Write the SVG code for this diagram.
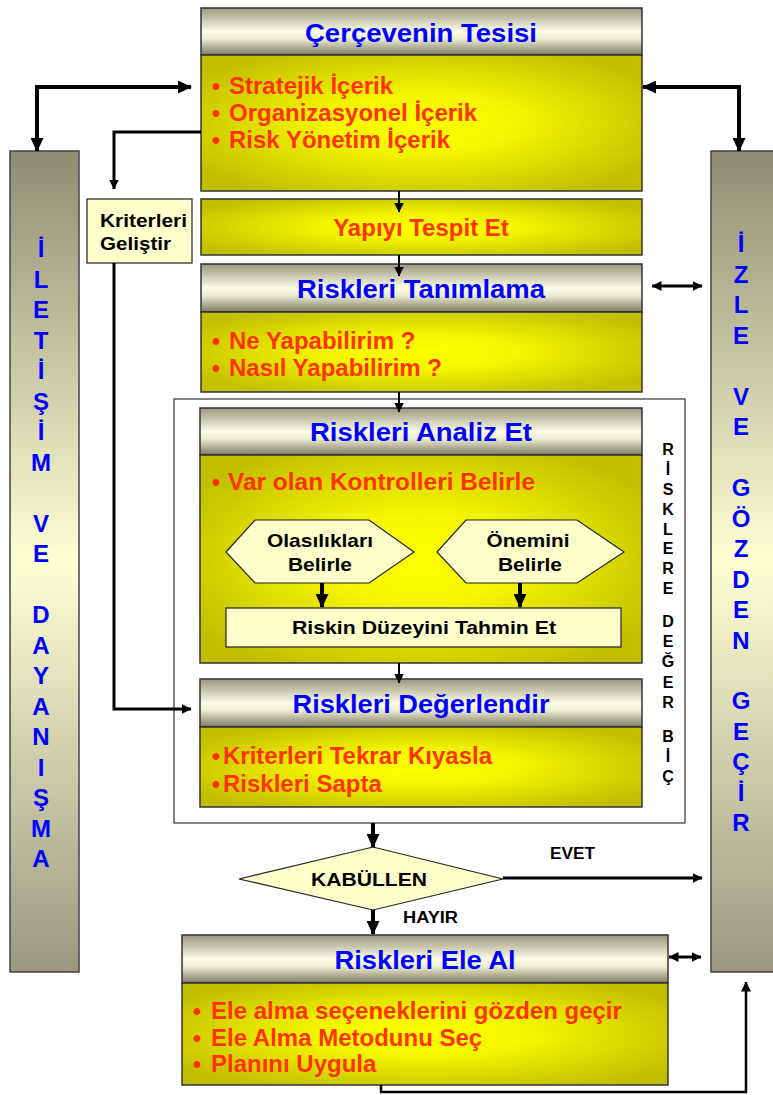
<svg xmlns="http://www.w3.org/2000/svg" width="773" height="1095" viewBox="0 0 773 1095">
<defs>
<linearGradient id="gh" x1="0" y1="0" x2="0" y2="1">
<stop offset="0" stop-color="#9a987c"/>
<stop offset="0.5" stop-color="#fbfbe6"/>
<stop offset="0.65" stop-color="#eeeed2"/>
<stop offset="1" stop-color="#7c7a62"/>
</linearGradient>
<radialGradient id="gb" cx="0.5" cy="0.5" r="0.6">
<stop offset="0" stop-color="#ffff00"/>
<stop offset="0.35" stop-color="#f6f600"/>
<stop offset="1" stop-color="#c2bf00"/>
</radialGradient>
<linearGradient id="gc" x1="0" y1="0" x2="0" y2="1">
<stop offset="0" stop-color="#8e8d72"/>
<stop offset="0.5" stop-color="#ffffd4"/>
<stop offset="1" stop-color="#9a9980"/>
</linearGradient>
<marker id="ab" viewBox="0 0 14 13" markerWidth="14" markerHeight="13" refX="13" refY="6.5" orient="auto-start-reverse" markerUnits="userSpaceOnUse">
<path d="M0,0 L14,6.5 L0,13 z" fill="#000"/>
</marker>
<marker id="as" viewBox="0 0 10 10" markerWidth="10" markerHeight="10" refX="9.5" refY="5" orient="auto-start-reverse" markerUnits="userSpaceOnUse">
<path d="M0,0 L10,5 L0,10 z" fill="#000"/>
</marker>
</defs>
<style>
.hdr{fill:url(#gh);stroke:#333;stroke-width:1.5}
.bod{fill:url(#gb);stroke:#333;stroke-width:1.5}
.cream{fill:#ffffcc;stroke:#222;stroke-width:1.2}
.col{fill:url(#gc);stroke:#444;stroke-width:1.5}
text{font-family:"Liberation Sans",Arial,sans-serif;font-weight:bold}
.h{font-size:25px;fill:#0000ff;text-anchor:middle}
.b{font-size:24px;fill:#ff3300}
.bm{font-size:24px;fill:#ff3300;text-anchor:middle}
.k{font-size:19px;fill:#000}
.km{font-size:19px;fill:#000;text-anchor:middle}
.v{font-size:24px;fill:#0000ff;text-anchor:middle}
.r{font-size:16px;fill:#000;text-anchor:middle}
.lb{font-size:16px;fill:#000}
.cn{fill:none;stroke:#000}
</style>

<g id="col-left">
<rect class="col" x="10" y="151" width="69" height="821"/>
<text class="v"><tspan x="41" y="257">İ</tspan><tspan x="41" y="287.5">L</tspan><tspan x="41" y="318">E</tspan><tspan x="41" y="348.5">T</tspan><tspan x="41" y="379">İ</tspan><tspan x="41" y="409.5">Ş</tspan><tspan x="41" y="440">İ</tspan><tspan x="41" y="470.5">M</tspan><tspan x="41" y="531.5">V</tspan><tspan x="41" y="562">E</tspan><tspan x="41" y="623">D</tspan><tspan x="41" y="653.5">A</tspan><tspan x="41" y="684">Y</tspan><tspan x="41" y="714.5">A</tspan><tspan x="41" y="745">N</tspan><tspan x="41" y="775.5">I</tspan><tspan x="41" y="806">Ş</tspan><tspan x="41" y="836.5">M</tspan><tspan x="41" y="867">A</tspan></text>
</g>

<g id="col-right">
<rect class="col" x="711" y="151" width="70" height="821"/>
<text class="v"><tspan x="741" y="252">İ</tspan><tspan x="741" y="282.5">Z</tspan><tspan x="741" y="313">L</tspan><tspan x="741" y="343.5">E</tspan><tspan x="741" y="404.5">V</tspan><tspan x="741" y="435">E</tspan><tspan x="741" y="496">G</tspan><tspan x="741" y="526.5">Ö</tspan><tspan x="741" y="557">Z</tspan><tspan x="741" y="587.5">D</tspan><tspan x="741" y="618">E</tspan><tspan x="741" y="648.5">N</tspan><tspan x="741" y="709">G</tspan><tspan x="741" y="739.5">E</tspan><tspan x="741" y="770">Ç</tspan><tspan x="741" y="800.5">İ</tspan><tspan x="741" y="831">R</tspan></text>
</g>

<g id="cerceve">
<rect class="hdr" x="201" y="8" width="441" height="47"/>
<rect class="bod" x="201" y="55" width="441" height="136"/>
<text class="h" x="421" y="42" textLength="232" lengthAdjust="spacingAndGlyphs">Çerçevenin Tesisi</text>
<text class="bm" x="216" y="94">•</text><text class="b" x="229" y="94">Stratejik İçerik</text>
<text class="bm" x="216" y="121">•</text><text class="b" x="229" y="121">Organizasyonel İçerik</text>
<text class="bm" x="216" y="148">•</text><text class="b" x="229" y="148">Risk Yönetim İçerik</text>
</g>

<g id="kriterleri">
<rect class="cream" x="87" y="199" width="105" height="64"/>
<text class="k" x="100" y="227" textLength="87" lengthAdjust="spacingAndGlyphs">Kriterleri</text>
<text class="k" x="100" y="250" textLength="71" lengthAdjust="spacingAndGlyphs">Geliştir</text>
</g>

<g id="yapi">
<rect class="bod" x="201" y="199" width="441" height="56"/>
<text class="bm" x="421" y="236">Yapıyı Tespit Et</text>
</g>

<g id="tanimlama">
<rect class="hdr" x="201" y="264" width="441" height="48"/>
<rect class="bod" x="201" y="312" width="441" height="80"/>
<text class="h" x="421" y="298" textLength="248" lengthAdjust="spacingAndGlyphs">Riskleri Tanımlama</text>
<text class="bm" x="216" y="349">•</text><text class="b" x="229" y="349">Ne Yapabilirim ?</text>
<text class="bm" x="216" y="376">•</text><text class="b" x="229" y="376">Nasıl Yapabilirim ?</text>
</g>

<g id="degerbic">
<rect x="174" y="399" width="511" height="424" fill="#fff" stroke="#333" stroke-width="1.2"/>
<text class="r"><tspan x="668" y="455">R</tspan><tspan x="668" y="475">İ</tspan><tspan x="668" y="495">S</tspan><tspan x="668" y="515">K</tspan><tspan x="668" y="535">L</tspan><tspan x="668" y="554">E</tspan><tspan x="668" y="574">R</tspan><tspan x="668" y="594">E</tspan><tspan x="668" y="627">D</tspan><tspan x="668" y="647">E</tspan><tspan x="668" y="667">Ğ</tspan><tspan x="668" y="688">E</tspan><tspan x="668" y="708">R</tspan><tspan x="668" y="742">B</tspan><tspan x="668" y="762">İ</tspan><tspan x="668" y="782">Ç</tspan></text>
</g>

<g id="analiz">
<rect class="hdr" x="200" y="408" width="442" height="47"/>
<rect class="bod" x="200" y="455" width="442" height="208"/>
<text class="h" x="421" y="441" textLength="222" lengthAdjust="spacingAndGlyphs">Riskleri Analiz Et</text>
<text class="bm" x="216" y="490">•</text><text class="b" x="228" y="490" textLength="307" lengthAdjust="spacingAndGlyphs">Var olan Kontrolleri Belirle</text>
</g>

<g id="olasilik">
<polygon class="cream" points="226,552 255,520 369,520 414,552 369,583 255,583"/>
<text class="km" x="320" y="547" textLength="106" lengthAdjust="spacingAndGlyphs">Olasılıkları</text>
<text class="km" x="320" y="571" textLength="64" lengthAdjust="spacingAndGlyphs">Belirle</text>
</g>

<g id="onem">
<polygon class="cream" points="437,552 466,520 577,520 624,552 577,583 466,583"/>
<text class="km" x="528" y="547" textLength="83" lengthAdjust="spacingAndGlyphs">Önemini</text>
<text class="km" x="530" y="571" textLength="64" lengthAdjust="spacingAndGlyphs">Belirle</text>
</g>

<g id="duzey">
<rect class="cream" x="226" y="608" width="395" height="39"/>
<text class="km" x="424" y="634" textLength="264" lengthAdjust="spacingAndGlyphs">Riskin Düzeyini Tahmin Et</text>
</g>

<g id="degerlendir">
<rect class="hdr" x="200" y="679" width="442" height="48"/>
<rect class="bod" x="200" y="727" width="442" height="80"/>
<text class="h" x="421" y="713" textLength="257" lengthAdjust="spacingAndGlyphs">Riskleri Değerlendir</text>
<text class="bm" x="216" y="764">•</text><text class="b" x="223" y="764">Kriterleri Tekrar Kıyasla</text>
<text class="bm" x="216" y="792">•</text><text class="b" x="223" y="792">Riskleri Sapta</text>
</g>

<g id="kabullen">
<polygon class="cream" points="239,879 373,847 503,879 373,910"/>
<text class="km" x="369" y="886" textLength="116" lengthAdjust="spacingAndGlyphs">KABÜLLEN</text>
</g>

<g id="eleal">
<rect class="hdr" x="182" y="935" width="486" height="48"/>
<rect class="bod" x="182" y="983" width="486" height="102"/>
<text class="h" x="425" y="969" textLength="181" lengthAdjust="spacingAndGlyphs">Riskleri Ele Al</text>
<text class="bm" x="197" y="1019">•</text><text class="b" x="211" y="1019">Ele alma seçeneklerini gözden geçir</text>
<text class="bm" x="197" y="1046">•</text><text class="b" x="211" y="1046">Ele Alma Metodunu Seç</text>
<text class="bm" x="197" y="1072">•</text><text class="b" x="211" y="1072">Planını Uygula</text>
</g>

<g id="connectors">
<path class="cn" d="M37,151 L37,87 L191,87" stroke-width="4" marker-start="url(#ab)" marker-end="url(#ab)"/>
<path class="cn" d="M739,151 L739,87 L643,87" stroke-width="4" marker-start="url(#ab)" marker-end="url(#ab)"/>
<path class="cn" d="M201,132 L114,132 L114,189" stroke-width="3" marker-end="url(#as)"/>
<path class="cn" d="M114,263 L114,709 L191,709" stroke-width="3" marker-end="url(#as)"/>
<path class="cn" d="M399,191 L399,212" stroke-width="2" marker-end="url(#as)"/>
<path class="cn" d="M399,255 L399,276" stroke-width="2" marker-end="url(#as)"/>
<path class="cn" d="M399,392 L399,412" stroke-width="2" marker-end="url(#as)"/>
<path class="cn" d="M399,663 L399,683" stroke-width="2" marker-end="url(#as)"/>
<path class="cn" d="M322,583 L322,607" stroke-width="4" marker-end="url(#ab)"/>
<path class="cn" d="M520,583 L520,607" stroke-width="4" marker-end="url(#ab)"/>
<path class="cn" d="M373,823 L373,847" stroke-width="4" marker-end="url(#ab)"/>
<path class="cn" d="M503,878 L702,878" stroke-width="3" marker-end="url(#as)"/>
<path class="cn" d="M373,910 L373,934" stroke-width="4" marker-end="url(#ab)"/>
<path class="cn" d="M652,286 L702,286" stroke-width="3" marker-start="url(#as)" marker-end="url(#as)"/>
<path class="cn" d="M669,957 L701,957" stroke-width="3" marker-start="url(#as)" marker-end="url(#as)"/>
<path class="cn" d="M381,1085 L381,1092 L746,1092 L746,982" stroke-width="2.5" marker-end="url(#as)"/>
<text class="lb" x="550" y="859" textLength="45" lengthAdjust="spacingAndGlyphs">EVET</text>
<text class="lb" x="403" y="923" textLength="55" lengthAdjust="spacingAndGlyphs">HAYIR</text>
</g>
</svg>
